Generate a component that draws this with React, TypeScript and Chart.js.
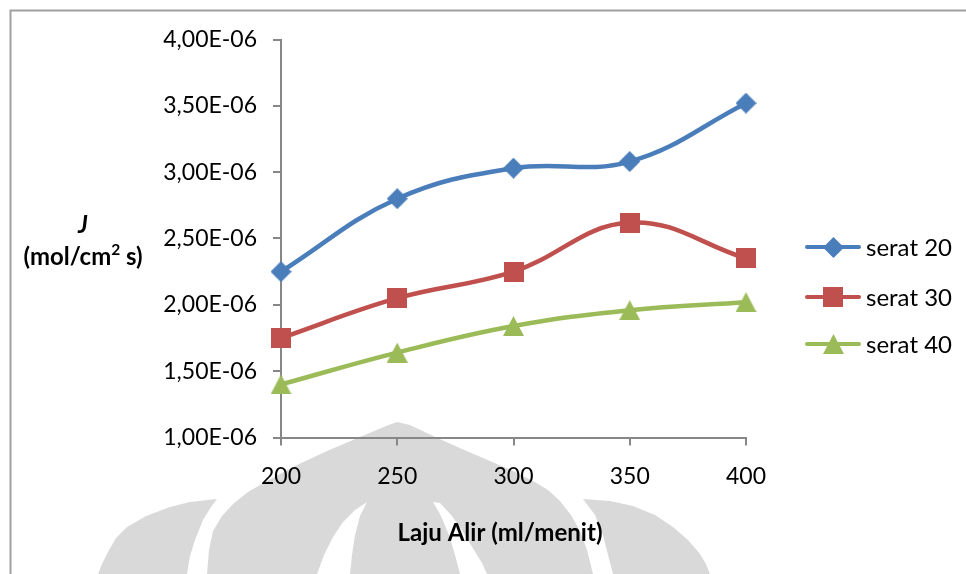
import React, { useEffect, useRef } from "react";
import { Chart, registerables } from "chart.js";

Chart.register(...registerables);

// Flow rate categories (ml/menit)
const flowRates = ["200", "250", "300", "350", "400"];

// Flux J (mol/cm²s) for each fibre count
const serat20 = [2.25e-6, 2.8e-6, 3.03e-6, 3.08e-6, 3.52e-6];
const serat30 = [1.75e-6, 2.05e-6, 2.25e-6, 2.62e-6, 2.35e-6];
const serat40 = [1.4e-6, 1.64e-6, 1.84e-6, 1.96e-6, 2.02e-6];

const seriesNames = ["serat 20", "serat 30", "serat 40"];
const seriesColors = ["#4A7EBB", "#C0504D", "#9BBB59"];
const markerKinds = ["diamond", "square", "triangle"];

const yTitleMain = "J";
const yTitleUnitParts = ["(mol/cm", "2", " s)"];
const xTitle = "Laju Alir (ml/menit)";

const yMin = 1e-6;
const yMax = 4e-6;
const yStep = 0.5e-6;

const FONT = "Lato, 'Open Sans', sans-serif";
const AXIS_GRAY = "#878787";

function makeMarker(kind: string, color: string): HTMLCanvasElement {
  const w = kind === "square" ? 20 : 21;
  const h = kind === "triangle" ? 20 : w;
  const c = document.createElement("canvas");
  c.width = w;
  c.height = h;
  const g = c.getContext("2d")!;
  g.fillStyle = color;
  g.beginPath();
  if (kind === "diamond") {
    g.moveTo(w / 2, 0);
    g.lineTo(w, h / 2);
    g.lineTo(w / 2, h);
    g.lineTo(0, h / 2);
  } else if (kind === "square") {
    g.rect(0, 0, w, h);
  } else {
    g.moveTo(w / 2, 0);
    g.lineTo(w, h);
    g.lineTo(0, h);
  }
  g.closePath();
  g.fill();
  return c;
}

// Faint emblem printed behind the plot
function drawEmblem(ctx: CanvasRenderingContext2D) {
  const poly = (pts: number[][], fill: string) => {
    ctx.beginPath();
    ctx.moveTo(pts[0][0], pts[0][1]);
    for (let i = 1; i < pts.length; i++) ctx.lineTo(pts[i][0], pts[i][1]);
    ctx.closePath();
    ctx.fillStyle = fill;
    ctx.fill();
  };
  const gray = "#d9d9d9";
  ctx.save();
  // left petal
  poly(
    [
      [217, 499], [190, 502], [170, 507], [146, 516], [127, 527], [116, 538],
      [108, 552], [102, 564], [98, 574], [187, 574], [190, 556], [195, 540],
      [203, 520], [211, 507],
    ],
    gray
  );
  // central arch
  poly(
    [
      [207, 574], [209, 550], [213, 531], [222, 516], [233, 504], [248, 492],
      [267, 481], [297, 465], [327, 451], [360, 437], [386, 426], [397, 422],
      [410, 425], [433, 436], [462, 449], [490, 461], [513, 471], [533, 481],
      [548, 490], [560, 501], [571, 515], [580, 531], [587, 550], [593, 574],
    ],
    gray
  );
  // slits in the arch
  poly(
    [
      [367, 502], [355, 510], [343, 522], [333, 537], [324, 555], [317, 574],
      [350, 574], [352, 555], [355, 535], [360, 516],
    ],
    "#ffffff"
  );
  poly(
    [
      [433, 502], [440, 503], [452, 516], [463, 532], [474, 550], [482, 563],
      [487, 574], [460, 574], [455, 555], [449, 535], [441, 516],
    ],
    "#ffffff"
  );
  // right petal
  poly(
    [
      [583, 499], [610, 501], [633, 506], [655, 515], [673, 527], [688, 540],
      [700, 554], [706, 564], [710, 574], [613, 574], [608, 555], [603, 535],
      [595, 515],
    ],
    gray
  );
  ctx.restore();
}

// Pick a font size so that text spans the given width
function fitFont(ctx: CanvasRenderingContext2D, text: string, style: string, width: number) {
  ctx.font = `${style} 20px ${FONT}`;
  const w = ctx.measureText(text).width;
  const size = (20 * width) / w;
  return `${style} ${size.toFixed(2)}px ${FONT}`;
}

export default function App() {
  const canvasRef = useRef<HTMLCanvasElement | null>(null);

  useEffect(() => {
    const canvas = canvasRef.current;
    if (!canvas) return;

    const markers = markerKinds.map((k, i) => makeMarker(k, seriesColors[i]));
    const seriesValues = [serat20, serat30, serat40];

    const decor = {
      id: "decor",
      beforeDraw(chart: Chart) {
        const ctx = chart.ctx;
        ctx.save();
        drawEmblem(ctx);
        // outer frame
        ctx.strokeStyle = "#a0a0a0";
        ctx.lineWidth = 2;
        ctx.strokeRect(10.5, 10.5, 1200, 1200);
        ctx.restore();
      },
      afterDraw(chart: Chart) {
        const ctx = chart.ctx;
        ctx.save();
        ctx.fillStyle = "#000";
        ctx.textBaseline = "middle";

        // y axis title (horizontal, two lines)
        const bodyFont = fitFont(ctx, "(mol/cm2 s)", "bold", 124);
        ctx.textAlign = "center";
        ctx.font = bodyFont.replace("bold", "italic bold");
        ctx.fillText(yTitleMain, 83, 225);

        ctx.font = bodyFont;
        const sizePx = parseFloat(bodyFont.split(" ")[1]);
        const supFont = `bold ${(sizePx * 0.65).toFixed(2)}px ${FONT}`;
        const w0 = ctx.measureText(yTitleUnitParts[0]).width;
        const w2 = ctx.measureText(yTitleUnitParts[2]).width;
        ctx.font = supFont;
        const w1 = ctx.measureText(yTitleUnitParts[1]).width;
        let x = 83 - (w0 + w1 + w2) / 2;
        ctx.textAlign = "left";
        ctx.font = bodyFont;
        ctx.fillText(yTitleUnitParts[0], x, 257);
        x += w0;
        ctx.font = supFont;
        ctx.fillText(yTitleUnitParts[1], x, 250);
        x += w1;
        ctx.font = bodyFont;
        ctx.fillText(yTitleUnitParts[2], x, 257);

        // x axis title
        ctx.textAlign = "center";
        ctx.font = fitFont(ctx, xTitle, "bold", 205);
        ctx.fillText(xTitle, 500, 533);

        // legend
        const legendYs = [247, 297, 344];
        const legendFont = fitFont(ctx, "serat 20", "", 86);
        seriesNames.forEach((name, i) => {
          const y = legendYs[i];
          ctx.strokeStyle = seriesColors[i];
          ctx.lineWidth = 4;
          ctx.lineCap = "round";
          ctx.beginPath();
          ctx.moveTo(807, y);
          ctx.lineTo(859, y);
          ctx.stroke();
          const m = markers[i];
          ctx.drawImage(m, Math.round(833 - m.width / 2), Math.round(y - m.height / 2));
          ctx.fillStyle = "#000";
          ctx.font = legendFont;
          ctx.textAlign = "left";
          ctx.fillText(name, 866, y + 1);
        });
        ctx.restore();
      },
    };

    const chart = new Chart(canvas, {
      type: "line",
      data: {
        labels: flowRates,
        datasets: seriesNames.map((name, i) => ({
          label: name,
          data: seriesValues[i],
          borderColor: seriesColors[i],
          backgroundColor: seriesColors[i],
          borderWidth: 4.5,
          tension: 0.4,
          fill: false,
          pointStyle: markers[i] as any,
          pointRadius: 10,
          clip: false as any,
        })),
      },
      options: {
        animation: false,
        responsive: false,
        maintainAspectRatio: false,
        layout: {
          autoPadding: false,
          padding: { left: 0, right: 220, top: 39.5, bottom: 0 },
        },
        plugins: {
          legend: { display: false },
          tooltip: { enabled: false },
          title: { display: false },
        },
        scales: {
          x: {
            type: "category",
            offset: false,
            afterFit: (s: any) => {
              s.height = 574 - 437.5;
            },
            grid: {
              display: true,
              drawOnChartArea: false,
              drawTicks: true,
              tickLength: 8,
              color: AXIS_GRAY,
              lineWidth: 2,
            },
            border: { display: true, color: AXIS_GRAY, width: 2 },
            ticks: {
              color: "#000",
              font: { family: FONT, size: 23 },
              padding: 17,
              maxRotation: 0,
            },
          },
          y: {
            type: "linear",
            min: yMin,
            max: yMax,
            afterFit: (s: any) => {
              s.width = 281;
            },
            grid: {
              display: true,
              drawOnChartArea: false,
              drawTicks: true,
              tickLength: 8,
              color: AXIS_GRAY,
              lineWidth: 2,
            },
            border: { display: true, color: AXIS_GRAY, width: 2 },
            ticks: {
              stepSize: yStep,
              color: "#000",
              font: { family: FONT, size: 23 },
              padding: 16,
              callback: (v: any) =>
                (Number(v) / 1e-6).toFixed(2).replace(".", ",") + "E-06",
            },
          },
        },
      },
      plugins: [decor],
    });

    return () => {
      chart.destroy();
    };
  }, []);

  return (
    <div style={{ position: "fixed", left: 0, top: 0, width: 966, height: 574, background: "#fff" }}>
      <canvas ref={canvasRef} width={966} height={574} style={{ display: "block" }} />
    </div>
  );
}
